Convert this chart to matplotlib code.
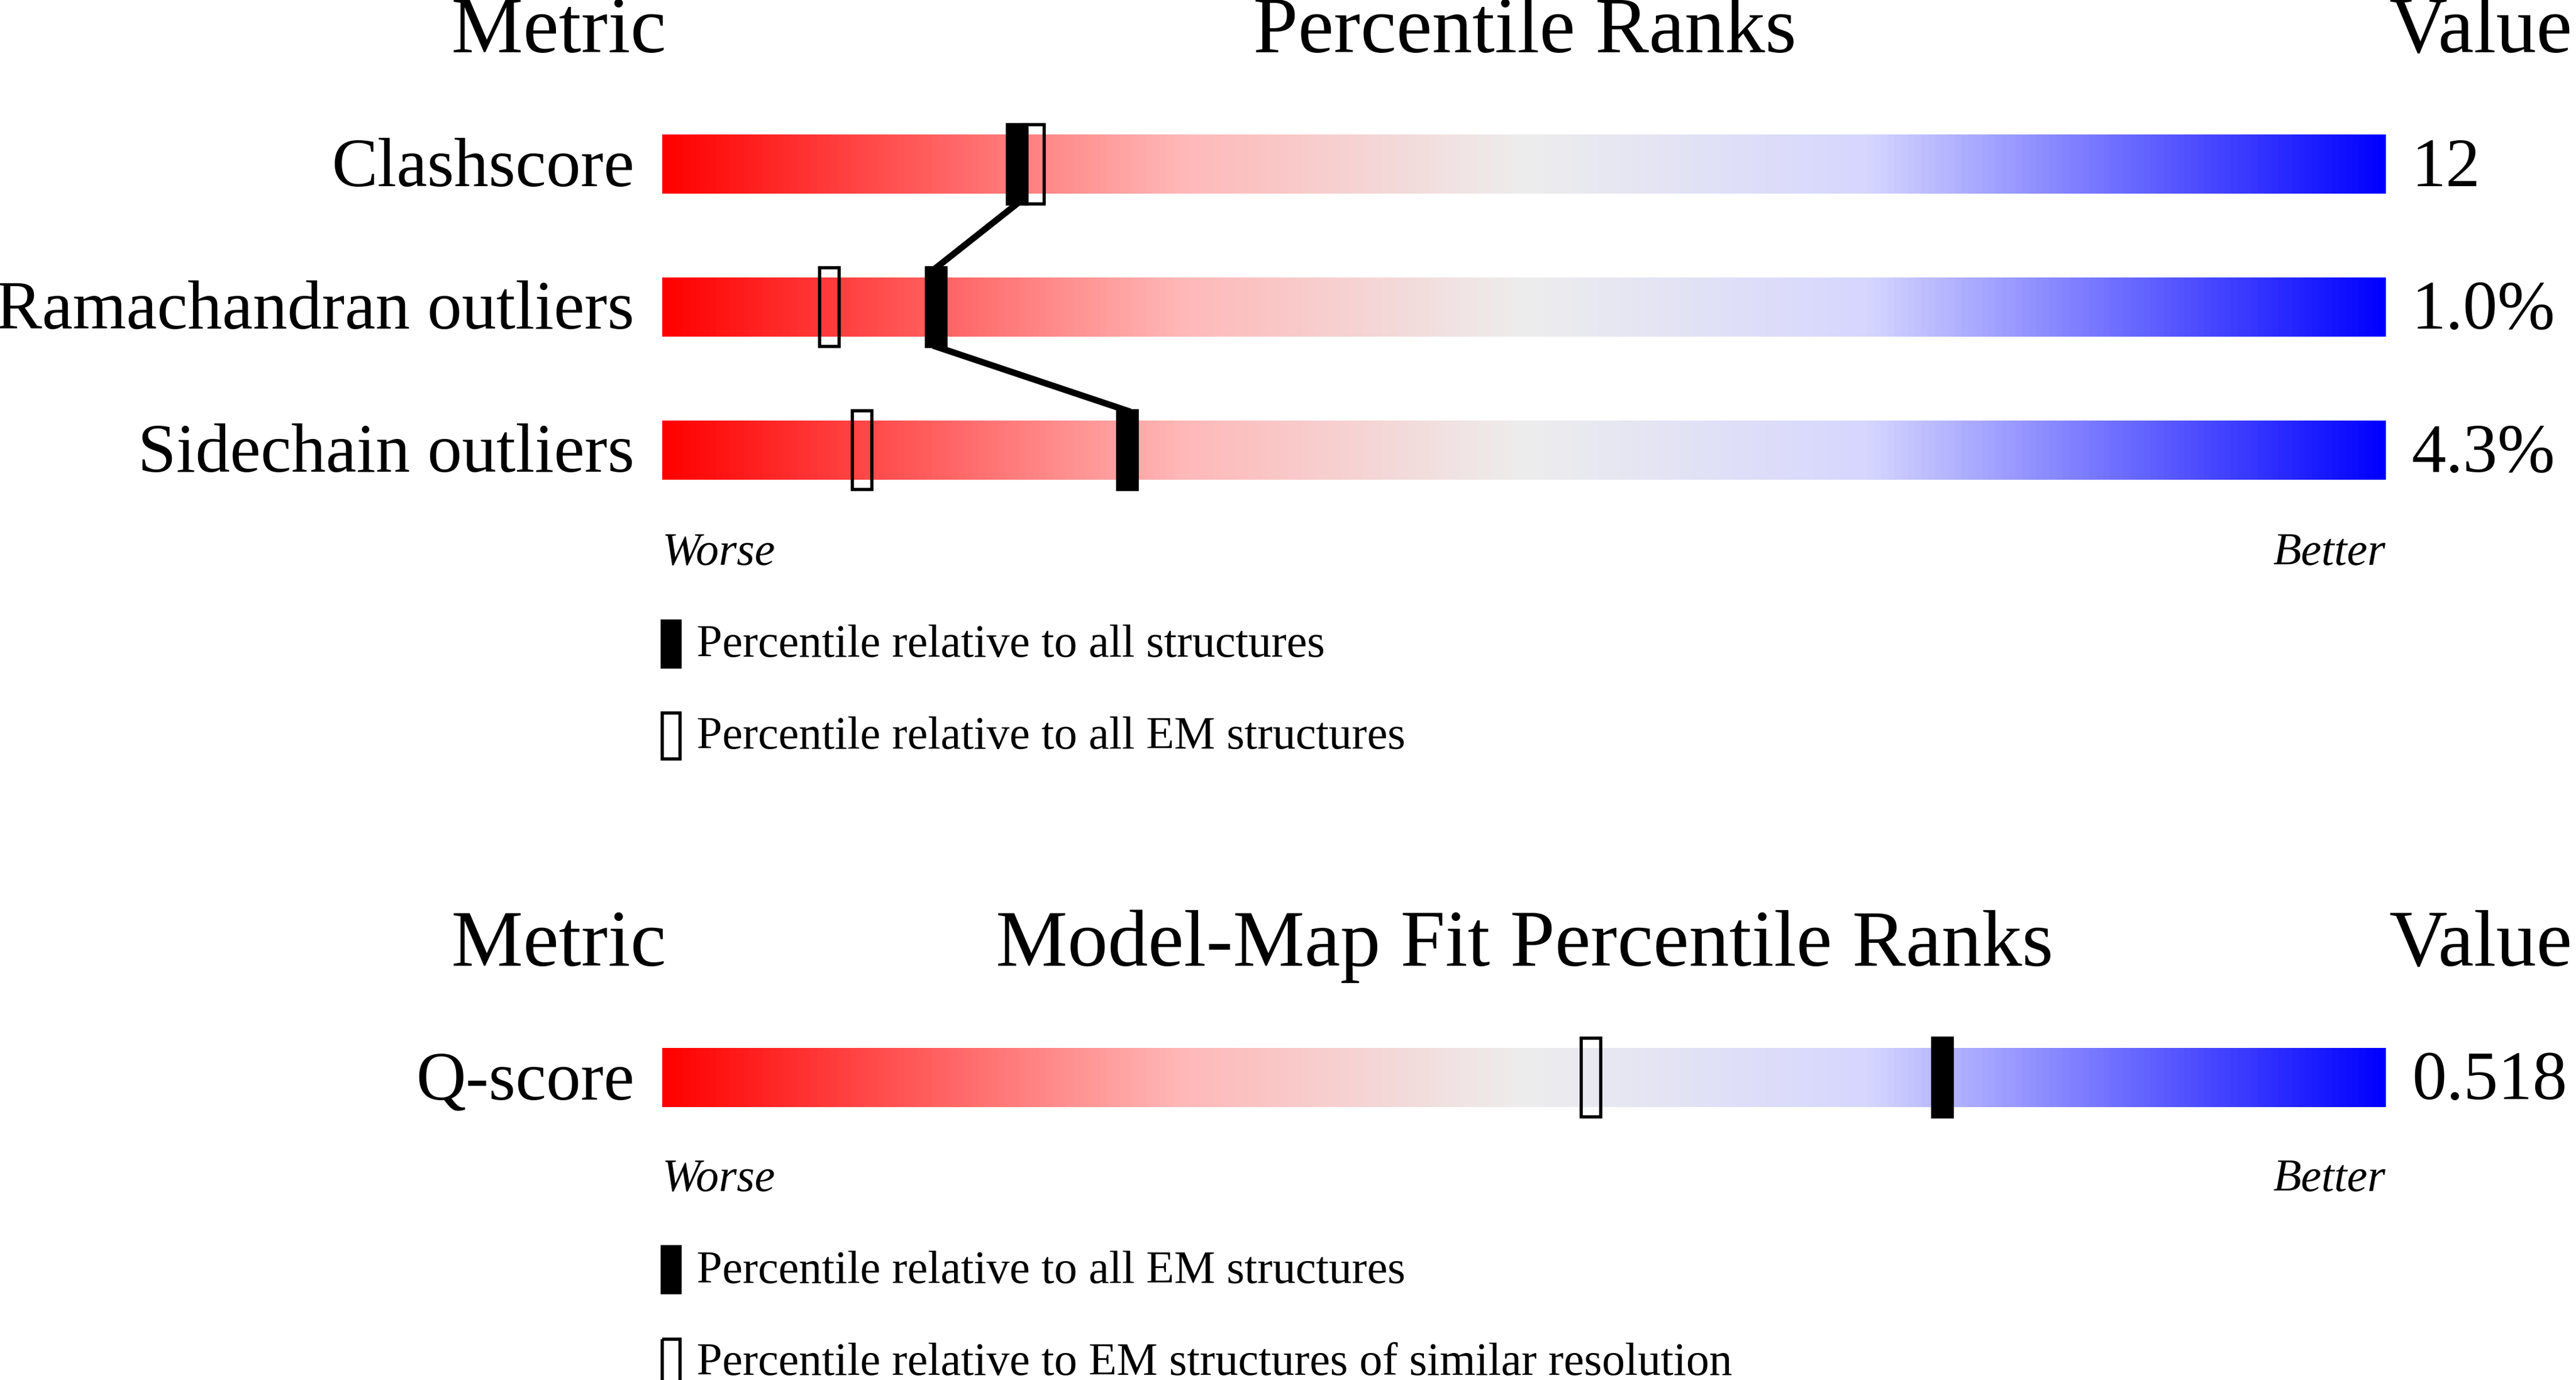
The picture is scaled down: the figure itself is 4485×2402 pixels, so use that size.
import numpy as np
import matplotlib.pyplot as plt
from matplotlib.colors import LinearSegmentedColormap
from matplotlib.patches import Rectangle

# data
metrics = ['Clashscore', 'Ramachandran outliers', 'Sidechain outliers']
values = ['12', '1.0%', '4.3%']
pct_all = [20.6, 15.9, 27.0]
pct_em = [21.6, 9.7, 11.6]

fit_metrics = ['Q-score']
fit_values = ['0.518']
fit_pct_all = [74.3]
fit_pct_sim = [53.9]

S = 4485 / 1568
fig = plt.figure(figsize=(44.85, 24.02), dpi=100)
ax = fig.add_axes([0, 0, 1, 1])
ax.set_xlim(0, 1568)
ax.set_ylim(840, 0)
ax.axis('off')

def fs(px):
    return px * S * 72 / 100

serif = 'Liberation Serif'
cmap = LinearSegmentedColormap.from_list('wb', [
    (0.0, (1, 0, 0)), (0.3, (1, 0.72, 0.72)), (0.5, (0.93, 0.93, 0.93)),
    (0.7, (0.84, 0.84, 1.0)), (1.0, (0, 0, 1))])
grad = np.linspace(0, 1, 512).reshape(1, -1)

X0, X1 = 403, 1452
def px(p):
    return X0 + (X1 - X0) * p / 100

def header(y, mid):
    ax.text(340, y, 'Metric', fontsize=fs(49), family=serif, ha='center', va='center')
    ax.text(928, y, mid, fontsize=fs(49), family=serif, ha='center', va='center')
    ax.text(1510, y, 'Value', fontsize=fs(49), family=serif, ha='center', va='center')

def row(y, name, val):
    ax.imshow(grad, cmap=cmap, aspect='auto', extent=(X0, X1, y + 18, y - 18), zorder=1)
    ax.text(386, y + 3, name, fontsize=fs(42), family=serif, ha='right', va='center')
    ax.text(1468, y + 3, val, fontsize=fs(42), family=serif, ha='left', va='center')

def marker(x, y, filled):
    ax.add_patch(Rectangle((x - 6, y - 24), 12, 48, facecolor='black' if filled else 'none',
                           edgecolor='black', linewidth=4, zorder=3))

def footer(y, lab1, lab2):
    ax.text(X0, y + 1, 'Worse', fontsize=fs(28), family=serif, style='italic', va='center')
    ax.text(X1, y + 1, 'Better', fontsize=fs(28), family=serif, style='italic', va='center', ha='right')
    for k, (lab, filled) in enumerate([(lab1, True), (lab2, False)]):
        yy = y + 56 * (k + 1)
        ax.add_patch(Rectangle((403, yy - 14), 11, 28, facecolor='black' if filled else 'none',
                               edgecolor='black', linewidth=4))
        ax.text(424, yy + 1, lab, fontsize=fs(28), family=serif, va='center')

# top panel
header(20, 'Percentile Ranks')
ys = [100, 187, 274]
for y, m, v in zip(ys, metrics, values):
    row(y, m, v)
xs = [px(p) for p in pct_all]
for i in range(len(ys) - 1):
    ax.plot([xs[i], xs[i + 1]], [ys[i] + 24, ys[i + 1] - 24], color='black', lw=8, zorder=2)
for y, pa, pe in zip(ys, pct_all, pct_em):
    marker(px(pe), y, False)
    marker(px(pa), y, True)
footer(336, 'Percentile relative to all structures', 'Percentile relative to all EM structures')

# bottom panel
header(576, 'Model-Map Fit Percentile Ranks')
for y, m, v, pa, ps in zip([656], fit_metrics, fit_values, fit_pct_all, fit_pct_sim):
    row(y, m, v)
    marker(px(ps), y, False)
    marker(px(pa), y, True)
footer(717, 'Percentile relative to all EM structures',
       'Percentile relative to EM structures of similar resolution')

fig.savefig('out.png', dpi=100)
